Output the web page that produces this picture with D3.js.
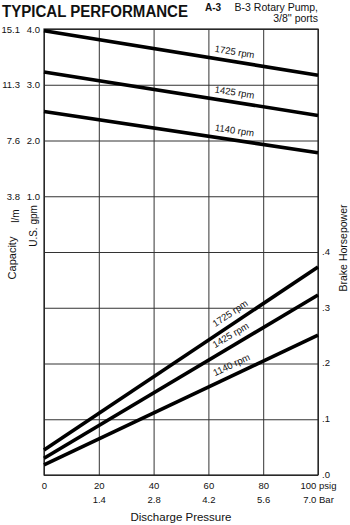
<!DOCTYPE html>
<html>
<head>
<meta charset="utf-8">
<script src="https://cdn.jsdelivr.net/npm/d3@7"></script>
<style>
  html, body { margin: 0; padding: 0; background: #fff; }
  svg { display: block; }
  text { font-family: "Liberation Sans", Arial, Helvetica, sans-serif; fill: #111; }
</style>
</head>
<body>
<svg id="chart" width="350" height="525"></svg>
<script>
// ---- data ----
const pressurePsi = [0, 100];
const rpmLabels = ["1725 rpm", "1425 rpm", "1140 rpm"];
const capacityGpm = [[3.97, 3.17], [3.23, 2.45], [2.52, 1.78]];
const brakeHp = [[0.045, 0.373], [0.030, 0.323], [0.018, 0.251]];
const psiTicks = [0, 20, 40, 60, 80, 100];
const psiTickLabels = ["0", "20", "40", "60", "80", "100 psig"];
const barTickLabels = ["", "1.4", "2.8", "4.2", "5.6", "7.0 Bar"];
const gpmTicks = [1, 2, 3, 4];
const gpmTickLabels = ["1.0", "2.0", "3.0", "4.0"];
const lpmTickLabels = ["3.8", "7.6", "11.3", "15.1"];
const hpTicks = [0, 0.1, 0.2, 0.3, 0.4];
const hpTickLabels = [".0", ".1", ".2", ".3", ".4"];

// ---- layout ----
const L = 44, R = 318, T = 29, B = 475, MID = 252;
const svg = d3.select("#chart");

const x = d3.scaleLinear().domain([0, 100]).range([L, R]);
const yCap = d3.scaleLinear().domain([0, 4]).range([MID, T]);
const yHp = d3.scaleLinear().domain([0, 0.4]).range([B, MID]);

// title
svg.append("text").attr("x", 2).attr("y", 17)
  .attr("font-size", 16).attr("font-weight", 900)
  .attr("textLength", 186).attr("lengthAdjust", "spacingAndGlyphs")
  .text("TYPICAL PERFORMANCE");
svg.append("text").attr("x", 205).attr("y", 11)
  .attr("font-size", 10).attr("font-weight", 700).text("A-3");
svg.append("text").attr("x", 318).attr("y", 11).attr("text-anchor", "end")
  .attr("font-size", 10.5).text("B-3 Rotary Pump,");
svg.append("text").attr("x", 318).attr("y", 22).attr("text-anchor", "end")
  .attr("font-size", 10.5).text("3/8'' ports");

// gridlines
const gridColor = "#333";
const gv = svg.append("g").attr("transform", `translate(0,${B})`)
  .call(d3.axisBottom(x).tickValues(psiTicks).tickSize(-(B - T)).tickFormat(""));
const gc = svg.append("g").attr("transform", `translate(${L},0)`)
  .call(d3.axisLeft(yCap).tickValues(gpmTicks).tickSize(-(R - L)).tickFormat(""));
const gh = svg.append("g").attr("transform", `translate(${L},0)`)
  .call(d3.axisLeft(yHp).tickValues(hpTicks).tickSize(-(R - L)).tickFormat(""));
[gv, gc, gh].forEach(g => {
  g.select(".domain").remove();
  g.selectAll("line").attr("stroke", gridColor).attr("stroke-width", 1);
});
svg.append("rect").attr("x", L).attr("y", T).attr("width", R - L).attr("height", B - T)
  .attr("fill", "none").attr("stroke", "#222").attr("stroke-width", 1.2);

// axes labels
function styleAxis(g, size) {
  g.select(".domain").remove();
  g.selectAll("line").remove();
  g.selectAll("text").attr("font-size", size).attr("fill", "#111")
    .attr("font-family", "Liberation Sans, Arial, sans-serif");
}
styleAxis(svg.append("g").attr("transform", `translate(0,${B + 4})`)
  .call(d3.axisBottom(x).tickValues(psiTicks).tickSize(0).tickPadding(3)
    .tickFormat((d, i) => psiTickLabels[i])), 9.5);
styleAxis(svg.append("g").attr("transform", `translate(0,${B + 18})`)
  .call(d3.axisBottom(x).tickValues(psiTicks).tickSize(0).tickPadding(3)
    .tickFormat((d, i) => barTickLabels[i])), 9.5);
styleAxis(svg.append("g").attr("transform", `translate(${L},0)`)
  .call(d3.axisLeft(yCap).tickValues(gpmTicks).tickSize(0).tickPadding(4)
    .tickFormat((d, i) => gpmTickLabels[i])), 9.5);
styleAxis(svg.append("g").attr("transform", `translate(24,0)`)
  .call(d3.axisLeft(yCap).tickValues(gpmTicks).tickSize(0).tickPadding(4)
    .tickFormat((d, i) => lpmTickLabels[i])), 9.5);
const rightAx = svg.append("g").attr("transform", `translate(${R},0)`)
  .call(d3.axisRight(yHp).tickValues(hpTicks).tickSize(0).tickPadding(4)
    .tickFormat((d, i) => hpTickLabels[i]));
styleAxis(rightAx, 9.5);
rightAx.selectAll("text").attr("dy", "0.25em");

svg.append("text").attr("x", 181).attr("y", 521).attr("text-anchor", "middle")
  .attr("font-size", 11.5).text("Discharge Pressure");
svg.append("text").attr("transform", "translate(16,258) rotate(-90)")
  .attr("text-anchor", "middle").attr("font-size", 11).text("Capacity");
svg.append("text").attr("transform", "translate(19,216) rotate(-90)")
  .attr("text-anchor", "middle").attr("font-size", 10).text("l/m");
svg.append("text").attr("transform", "translate(37,226) rotate(-90)")
  .attr("text-anchor", "middle").attr("font-size", 10).text("U.S. gpm");
svg.append("text").attr("transform", "translate(347,248) rotate(-90)")
  .attr("text-anchor", "middle").attr("font-size", 10.5).text("Brake Horsepower");

// curves
const capLine = d3.line().x((d, i) => x(pressurePsi[i])).y(d => yCap(d));
const hpLine = d3.line().x((d, i) => x(pressurePsi[i])).y(d => yHp(d));
svg.append("g").selectAll("path.cap").data(capacityGpm).join("path")
  .attr("d", capLine).attr("fill", "none").attr("stroke", "#000").attr("stroke-width", 3.6);
svg.append("g").selectAll("path.hp").data(brakeHp).join("path")
  .attr("d", hpLine).attr("fill", "none").attr("stroke", "#000").attr("stroke-width", 3.6);

// rpm labels along curves
function labelAlong(vals, yScale, psi, off) {
  const x0 = x(pressurePsi[0]), x1 = x(pressurePsi[1]);
  const y0 = yScale(vals[0]), y1 = yScale(vals[1]);
  const a = Math.atan2(y1 - y0, x1 - x0);
  const t = (psi - pressurePsi[0]) / (pressurePsi[1] - pressurePsi[0]);
  const px = x(psi), py = y0 + t * (y1 - y0);
  return { x: px + Math.sin(a) * off, y: py - Math.cos(a) * off, deg: a * 180 / Math.PI };
}
capacityGpm.forEach((v, i) => {
  const p = labelAlong(v, yCap, 69, 9);
  svg.append("text").attr("transform", `translate(${p.x},${p.y}) rotate(${p.deg})`)
    .attr("text-anchor", "middle").attr("dominant-baseline", "middle")
    .attr("font-size", 9.5).text(rpmLabels[i]);
});
brakeHp.forEach((v, i) => {
  const p = labelAlong(v, yHp, 70, 9.5);
  svg.append("text").attr("transform", `translate(${p.x},${p.y}) rotate(${p.deg})`)
    .attr("text-anchor", "middle").attr("dominant-baseline", "middle")
    .attr("font-size", 9.5).text(rpmLabels[i]);
});
</script>
</body>
</html>
